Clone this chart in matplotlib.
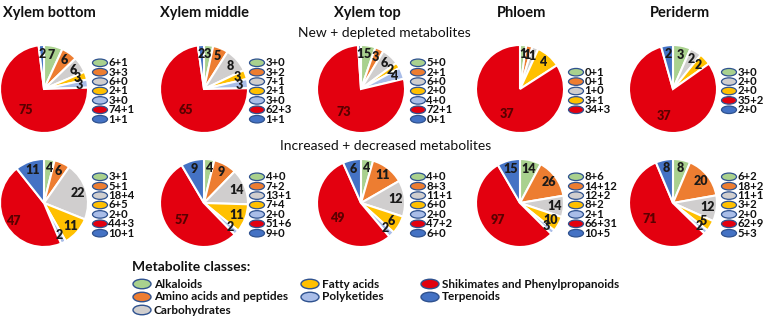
import numpy as np
import matplotlib.pyplot as plt
from matplotlib.patches import Ellipse

plt.rcParams['font.family'] = ['Lato', 'DejaVu Sans']

# --- Data ---
classes = ["Alkaloids", "Amino acids and peptides", "Carbohydrates", "Fatty acids",
           "Polyketides", "Shikimates and Phenylpropanoids", "Terpenoids"]
colors = ["#A9D18E", "#ED7D31", "#D0CECE", "#FFC000", "#A9BDE8", "#E3000F", "#4472C4"]
tissues = ["Xylem bottom", "Xylem middle", "Xylem top", "Phloem", "Periderm"]

# new + depleted (None = class absent)
new = [[6, 3, 6, 2, 3, 74, 1],
       [3, 3, 7, 2, 3, 62, 1],
       [5, 2, 6, 2, 4, 72, 0],
       [0, 0, 1, 3, None, 34, None],
       [3, None, 2, 2, None, 35, 2]]
depleted = [[1, 3, 0, 1, 0, 1, 1],
            [0, 2, 1, 1, 0, 3, 1],
            [0, 1, 0, 0, 0, 1, 1],
            [1, 1, 0, 1, None, 3, None],
            [0, None, 0, 0, None, 2, 0]]

# increased + decreased
increased = [[3, 5, 18, 6, 2, 44, 10],
             [4, 7, 13, 7, 2, 51, 9],
             [4, 8, 11, 6, 2, 47, 6],
             [8, 14, 12, 8, 2, 66, 10],
             [6, 18, 11, 3, 2, 62, 5]]
decreased = [[1, 1, 4, 5, 0, 3, 1],
             [0, 2, 1, 4, 0, 6, 0],
             [0, 3, 1, 0, 0, 2, 0],
             [6, 12, 2, 2, 1, 31, 5],
             [2, 2, 1, 2, 0, 9, 3]]

# --- Layout (pixel coords, y from top) ---
W, H = 764, 319
pie_x = [44, 204, 361, 520, 673]
leg_x = [100, 257, 418, 576, 729]
title_x = [49, 204, 367, 522, 680]
row_y = [89, 203]
R = 44
edge = "#2F528F"

fig = plt.figure(figsize=(W / 100, H / 100), dpi=100)
ax = fig.add_axes([0, 0, 1, 1])


def Y(y):
    return H - y


def draw_panel(i, cy, a_vals, b_vals):
    idx = [k for k in range(len(classes)) if a_vals[k] is not None]
    totals = [a_vals[k] + b_vals[k] for k in idx]
    cols = [colors[k] for k in idx]
    wedges, _ = ax.pie(totals, colors=cols, startangle=90, counterclock=False,
                       center=(pie_x[i], Y(cy)), radius=R,
                       wedgeprops=dict(edgecolor="white", linewidth=1.5))
    s = sum(totals)
    for w, v, k in zip(wedges, totals, idx):
        ang = np.deg2rad((w.theta1 + w.theta2) / 2)
        d = 0.64 if v / s > 0.5 else 0.8
        tx = pie_x[i] + R * d * np.cos(ang)
        ty = Y(cy) + R * d * np.sin(ang)
        tc = "#5A0000" if k == 5 else "#1A1A1A"
        ax.text(tx, ty, str(v), ha="center", va="center", fontsize=9,
                fontweight="heavy", color=tc)
    # legend next to pie
    n = len(idx)
    step = 9.4
    y0 = cy + 2 - step * (n - 1) / 2
    for j, k in enumerate(idx):
        yy = Y(y0 + j * step)
        ax.add_patch(Ellipse((leg_x[i], yy), 15, 7.5, facecolor=colors[k],
                             edgecolor=edge, linewidth=0.9))
        ax.text(leg_x[i] + 8.5, yy, f"{a_vals[k]}+{b_vals[k]}", ha="left",
                va="center", fontsize=8.2, fontweight="bold", color="#111111")


for i in range(5):
    ax.text(title_x[i], Y(13), tissues[i], ha="center", va="center",
            fontsize=10.5, fontweight="bold", color="#111111")
    draw_panel(i, row_y[0], new[i], depleted[i])
    draw_panel(i, row_y[1], increased[i], decreased[i])

ax.text(384, Y(33), "New + depleted metabolites", ha="center", va="center",
        fontsize=10, color="#111111")
ax.text(386, Y(146), "Increased + decreased metabolites", ha="center",
        va="center", fontsize=10, color="#111111")

# --- class legend ---
ax.text(132, Y(267), "Metabolite classes:", ha="left", va="center",
        fontsize=10, fontweight="bold", color="#111111")
leg_cols = [[0, 1, 2], [3, 4], [5, 6]]
leg_cx = [142, 310, 430]
leg_ry = [284, 297, 310]
for c, members in enumerate(leg_cols):
    for r, k in enumerate(members):
        ax.add_patch(Ellipse((leg_cx[c], Y(leg_ry[r])), 18, 9.5,
                             facecolor=colors[k], edgecolor=edge, linewidth=1))
        ax.text(leg_cx[c] + 12, Y(leg_ry[r]), classes[k], ha="left",
                va="center", fontsize=8.5, fontweight="bold", color="#111111")

ax.set_xlim(0, W)
ax.set_ylim(0, H)
ax.set_aspect("equal")
ax.axis("off")
fig.savefig("out.png", dpi=100)
